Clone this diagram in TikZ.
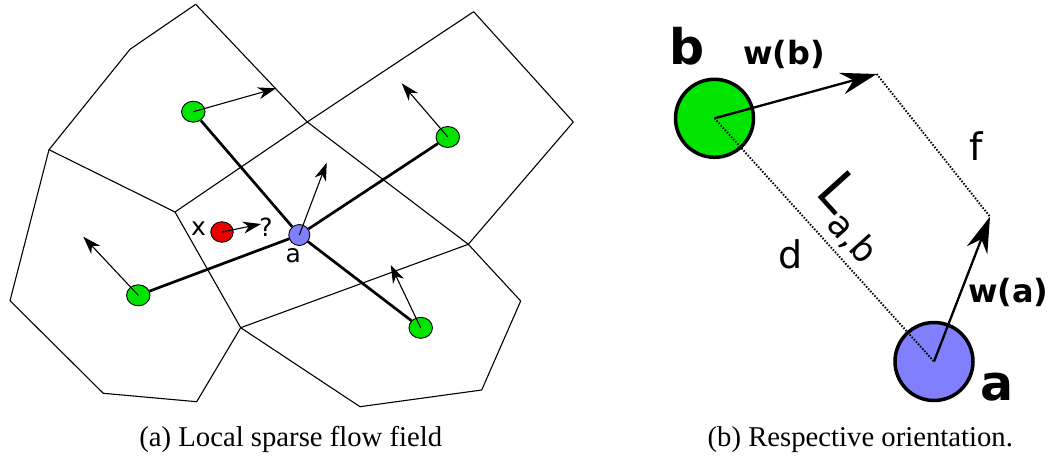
\documentclass[tikz,border=0pt]{standalone}
\usepackage{fontspec}
\setmainfont{Liberation Serif}
\newfontfamily\dv{DejaVu Sans}
\usetikzlibrary{arrows.meta,shapes.geometric}
\definecolor{ngreen}{RGB}{0,228,0}
\definecolor{nblue}{RGB}{128,128,255}
\definecolor{nred}{RGB}{235,0,0}
\begin{document}
\begin{tikzpicture}[x=1pt,y=-1pt,
  cell/.style={line width=1.1pt, line join=round},
  link/.style={line width=2.7pt},
  flow/.style={line width=1.1pt, -{Stealth[length=18pt,width=12pt,inset=5.5pt]}},
  site/.style={ellipse, draw, line width=0.9pt, minimum width=23.5pt, minimum height=21pt, inner sep=0},
  big/.style={circle, draw, line width=3.5pt, minimum size=78pt, inner sep=0},
  bflow/.style={line width=2.3pt, -{Stealth[length=36pt,width=22pt,inset=12pt]}},
  dots/.style={line width=1.9pt, dash pattern=on 1.5pt off 1.6pt},
  lbl/.style={inner sep=0, font={\dv\fontsize{25}{25}\selectfont}},
  blbl/.style={inner sep=0, font={\dv\bfseries\fontsize{32}{32}\selectfont}},
  hlbl/.style={inner sep=0, font={\dv\bfseries\fontsize{49}{49}\selectfont}},
  mlbl/.style={inner sep=0, font={\dv\fontsize{38}{38}\selectfont}},
  captxt/.style={anchor=base, inner sep=0, font={\fontsize{28.7}{28.7}\selectfont}},
]
\useasboundingbox (0,0) rectangle (1053,456);
% Voronoi cells
\coordinate (T) at (195.7,4.3);
\coordinate (A) at (130,49.3);
\coordinate (B) at (49,149.7);
\coordinate (C) at (175,212);
\coordinate (X) at (307.3,122);
\coordinate (R1) at (473.7,11.7);
\coordinate (R2) at (573.3,122);
\coordinate (D) at (468.3,244.3);
\coordinate (E) at (240.7,327.7);
\coordinate (L1) at (10,300.7);
\coordinate (L2) at (103.3,393.3);
\coordinate (L3) at (196.7,401.7);
\coordinate (Q1) at (520.7,301);
\coordinate (Q2) at (481.7,390);
\coordinate (Q3) at (360,406.7);
\draw[cell] (T)--(A)--(B)--(C)--(X)--(R1)--(R2)--(D)--(E)--(C);
\draw[cell] (T)--(X)--(D);
\draw[cell] (D)--(Q1)--(Q2)--(Q3)--(E)--(L3)--(L2)--(L1)--(B);
% sites
\node[site, fill=ngreen] (g1) at (193.3,111.7) {};
\node[site, fill=ngreen] (g2) at (447.8,137) {};
\node[site, fill=ngreen] (g3) at (138.3,295.3) {};
\node[site, fill=ngreen] (g4) at (420.7,327.8) {};
\node[site, fill=nblue, minimum width=21pt, minimum height=21pt] (a) at (299.3,235) {};
\node[site, fill=nred, minimum width=22.5pt, minimum height=20.5pt] (x) at (222,232) {};
\draw[link] (a) -- (g1);
\draw[link] (a) -- (g2);
\draw[link] (a) -- (g3);
\draw[link] (a) -- (g4);
\coordinate (t1) at (276,88.3);
\coordinate (t2) at (401.7,83.3);
\coordinate (t3) at (83.3,236.7);
\coordinate (t4) at (390.7,265);
\coordinate (ta) at (326.7,162.7);
\coordinate (tx) at (261,224);
\draw[flow] (g1.center) -- (t1);
\draw[flow] (g2.center) -- (t2);
\draw[flow] (g3.center) -- (t3);
\draw[flow] (g4.center) -- (t4);
\draw[flow] (a.center) -- (ta);
\draw[flow] (x.center) -- (tx);
\node[lbl] (xl) at (198.5,228.3) {x};
\node[lbl] (ql) at (266,227.5) {?};
\node[lbl] (al) at (293.3,255.8) {a};
% right panel
\node[big, fill=ngreen] (b) at (714.5,118.3) {};
\node[big, fill=nblue] (A2) at (934,361.5) {};
\coordinate (wb) at (876.7,74);
\coordinate (wa) at (990,216.7);
\draw[dots] (b.center) -- (A2.center);
\draw[dots] (wb) -- (wa);
\draw[bflow] (b.center) -- (wb);
\draw[bflow] (A2.center) -- (wa);
\node[hlbl] (bl) at (686.7,46.7) {b};
\node[blbl] (wbl) at (784,54) {w(b)};
\node[mlbl] (fl) at (975.8,145.8) {f};
\node[mlbl] (dl) at (790.8,254.5) {d};
\node[blbl] (wal) at (1008.3,292.5) {w(a)};
\node[hlbl] (a2l) at (996.7,387.5) {a};
\node[inner sep=0, rotate=-48, anchor=base west] (lab) at (814.5,193.5)
  {{\dv\fontsize{55}{55}\selectfont L}{\dv\fontsize{35}{35}\selectfont\raisebox{-13pt}{a,b}}};
% captions
\node[captxt] (capa) at (290.8,446.7) {(a) Local sparse flow field};
\node[captxt] (capb) at (860.3,446.7) {(b) Respective orientation.};
\end{tikzpicture}
\end{document}
